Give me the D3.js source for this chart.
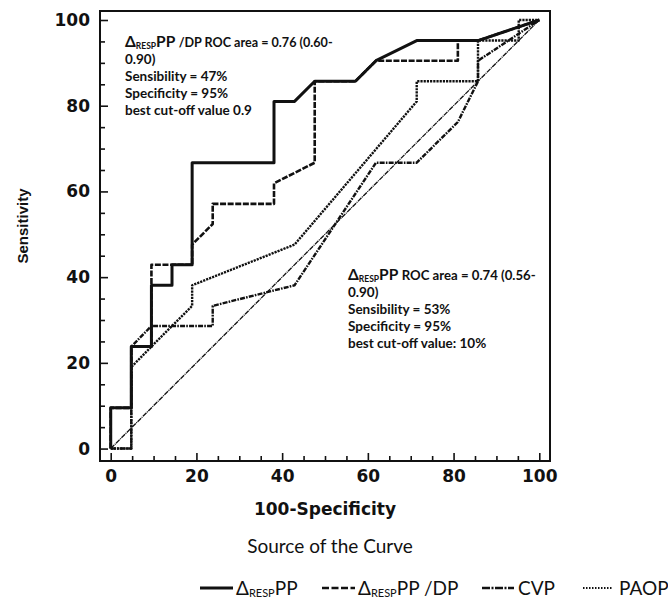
<!DOCTYPE html>
<html><head><meta charset="utf-8">
<script src="https://cdn.jsdelivr.net/npm/d3@7"></script>
<style>body{margin:0;background:#fff}svg{display:block}</style>
</head><body><svg id="c" width="668" height="608"></svg>
<script>
// ---- data ----
const majorTicks = [0,20,40,60,80,100];
const minorTicks = [5,10,15,25,30,35,45,50,55,65,70,75,85,90,95];
const xTitle = "100-Specificity";
const yTitle = "Sensitivity";
const legendTitle = "Source of the Curve";
const seriesNames = ["PP", "PP /DP", "CVP", "PAOP"];

const respX = [0,0,4.8,4.8,9.5,9.5,14.3,14.3,19.0,19.0,38.1,38.1,42.9,47.6,57.1,61.9,71.4,85.7,100];
const respY = [0,9.5,9.5,23.8,23.8,38.1,38.1,42.9,42.9,66.7,66.7,81.0,81.0,85.7,85.7,90.5,95.2,95.2,100];

const dpX = [0,0,4.8,4.8,9.5,9.5,19.0,19.0,23.8,23.8,38.1,38.1,47.6,47.6,57.1,61.9,81.0,81.0,85.7,100];
const dpY = [0,9.5,9.5,23.8,23.8,42.9,42.9,47.6,52.4,57.1,57.1,61.9,66.7,85.7,85.7,90.5,90.5,95.2,95.2,100];

const cvpX = [0,4.8,4.8,9.5,23.8,23.8,42.9,61.9,71.4,81.0,85.7,85.7,100];
const cvpY = [0,0,23.8,28.6,28.6,33.3,38.1,66.7,66.7,76.2,85.7,90.5,100];

const paopX = [0,4.8,4.8,9.5,19.0,19.0,42.9,71.4,71.4,85.7,85.7,95.2,95.2,100];
const paopY = [0,0,19.0,23.8,33.3,38.1,47.6,81.0,85.7,85.7,95.2,95.2,100,100];

const refX = [0,100];
const refY = [0,100];

const annotLeft = ["/DP ROC area = 0.76 (0.60-", "0.90)", "Sensibility = 47%", "Specificity = 95%", "best cut-off value 0.9"];
const annotRight = ["ROC area = 0.74 (0.56-", "0.90)", "Sensibility = 53%", "Specificity = 95%", "best cut-off value: 10%"];

// ---- drawing ----
const svg = d3.select("#c");
const x = d3.scaleLinear().domain([-2.5, 102.5]).range([100, 550]);
const y = d3.scaleLinear().domain([-2.9, 102.1]).range([461, 11]);
const ink = "#111";

const styles = [
  {xs: refX, ys: refY, w: 1.3, dash: "5,0.8,1,0.8"},
  {xs: paopX, ys: paopY, w: 2.4, dash: "2.2,1"},
  {xs: cvpX, ys: cvpY, w: 2.4, dash: "5,1.2,1.6,1.2"},
  {xs: dpX, ys: dpY, w: 2.6, dash: "6,1.6"},
  {xs: respX, ys: respY, w: 3, dash: null}
];
const line = d3.line().x(d => x(d[0])).y(d => y(d[1]));
styles.forEach(s => {
  svg.append("path")
    .datum(s.xs.map((v,i) => [v, s.ys[i]]))
    .attr("d", line)
    .attr("fill", "none")
    .attr("stroke", ink)
    .attr("stroke-width", s.w)
    .attr("stroke-linejoin", "round")
    .attr("stroke-dasharray", s.dash);
});

// frame
svg.append("rect").attr("x", 100).attr("y", 11).attr("width", 450).attr("height", 450)
  .attr("fill", "none").attr("stroke", ink).attr("stroke-width", 2);

const tickFont = "'DejaVu Sans', sans-serif";
function styleAxis(g, labels) {
  g.select(".domain").remove();
  g.selectAll("line").attr("stroke", ink).attr("stroke-width", 1.6);
  g.selectAll("text").attr("fill", ink).style("font-family", tickFont)
    .style("font-weight", "bold").style("font-size", "17px");
  if (!labels) g.selectAll("text").remove();
}
svg.append("g").attr("transform", "translate(100,0)")
  .call(d3.axisLeft(y).tickValues(majorTicks).tickSizeInner(-8).tickSizeOuter(0).tickPadding(10))
  .call(g => styleAxis(g, true));
svg.append("g").attr("transform", "translate(100,0)")
  .call(d3.axisLeft(y).tickValues(minorTicks).tickSizeInner(-5).tickSizeOuter(0))
  .call(g => styleAxis(g, false));
svg.append("g").attr("transform", "translate(0,461)")
  .call(d3.axisBottom(x).tickValues(majorTicks).tickSizeInner(-8).tickSizeOuter(0).tickPadding(9))
  .call(g => styleAxis(g, true));
svg.append("g").attr("transform", "translate(0,461)")
  .call(d3.axisBottom(x).tickValues(minorTicks).tickSizeInner(-5).tickSizeOuter(0))
  .call(g => styleAxis(g, false));

svg.append("text").attr("x", 325).attr("y", 515).attr("text-anchor", "middle")
  .style("font-family", tickFont).style("font-weight", "bold").style("font-size", "17px")
  .attr("fill", ink).text(xTitle);
svg.append("text").attr("transform", "translate(28,226) rotate(-90)").attr("text-anchor", "middle")
  .style("font-family", "'Liberation Sans', Arial, sans-serif").style("font-weight", "bold").style("font-size", "15px")
  .attr("fill", ink).text(yTitle);

const annFont = "Lato, 'Open Sans', sans-serif";
function annot(x0, y0, lines, firstSize) {
  const g = svg.append("g").style("font-family", annFont).style("font-weight", "bold").attr("fill", ink);
  lines.forEach((s, i) => {
    const t = g.append("text").attr("x", x0).attr("y", y0 + i * 17).style("font-size", "13.5px");
    if (i === 0) {
      t.append("tspan").style("font-size", "15.5px").text("Δ");
      t.append("tspan").style("font-size", "8.5px").attr("dy", 2).text("RESP");
      t.append("tspan").style("font-size", "15.5px").attr("dy", -2).text("PP ");
      t.append("tspan").style("font-size", firstSize + "px").text(s);
    } else t.text(s);
  });
}
annot(125, 47, annotLeft, 12.6);
annot(348, 280, annotRight, 13.2);

// legend
const legFont = "Lato, 'Open Sans', sans-serif";
svg.append("text").attr("x", 330).attr("y", 553).attr("text-anchor", "middle")
  .style("font-family", legFont).style("font-size", "19px").attr("fill", ink).text(legendTitle);
const legItems = [
  {x1: 200, x2: 233, tx: 236, w: 3, dash: null, delta: true, label: seriesNames[0]},
  {x1: 322, x2: 355, tx: 358, w: 2.6, dash: "7,2.5", delta: true, label: seriesNames[1]},
  {x1: 482, x2: 514, tx: 518, w: 2.6, dash: "8,1.5,2,1.5", delta: false, label: seriesNames[2]},
  {x1: 583, x2: 613, tx: 619, w: 2.2, dash: "1.5,1.5", delta: false, label: seriesNames[3]}
];
legItems.forEach(d => {
  svg.append("line").attr("x1", d.x1).attr("x2", d.x2).attr("y1", 588).attr("y2", 588)
    .attr("stroke", ink).attr("stroke-width", d.w).attr("stroke-dasharray", d.dash);
  const t = svg.append("text").attr("x", d.tx).attr("y", 595)
    .style("font-family", legFont).style("font-size", "19px").attr("fill", ink);
  if (d.delta) {
    t.append("tspan").text("Δ");
    t.append("tspan").style("font-size", "11px").attr("dy", 2).text("RESP");
    t.append("tspan").attr("dy", -2).text(d.label);
  } else t.text(d.label);
});
</script></body></html>
